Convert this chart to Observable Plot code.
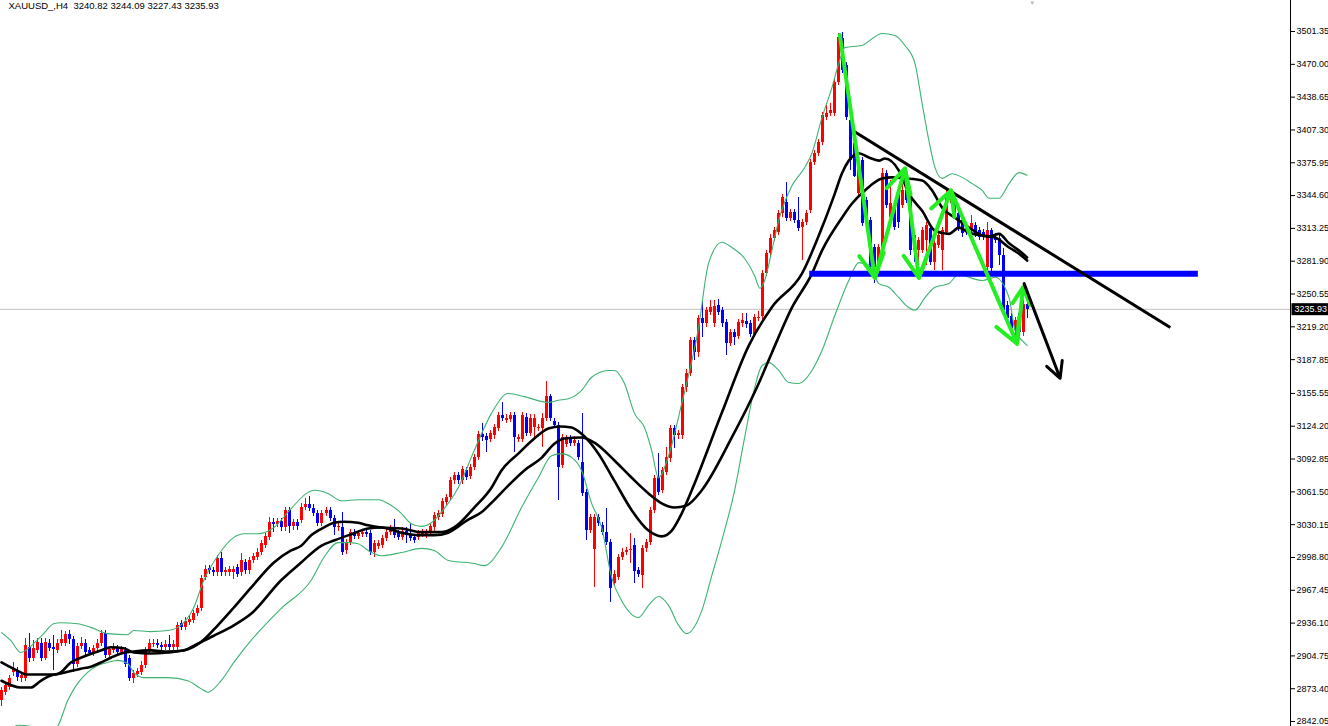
<!DOCTYPE html>
<html><head><meta charset="utf-8">
<script src="https://cdn.jsdelivr.net/npm/d3@7"></script>
<script src="https://cdn.jsdelivr.net/npm/@observablehq/plot@0.6"></script>
<style>html,body{margin:0;padding:0;background:#fff;overflow:hidden}</style>
</head><body><div id="chart"></div>
<script>
const symbolTitle = "XAUUSD_,H4\u00a0 3240.82 3244.09 3227.43 3235.93";
const lastPrice = 3235.93;
const priceTicks = [3501.35,3470.00,3438.65,3407.30,3375.95,3344.60,3313.25,3281.90,3250.55,3219.20,3187.85,3155.55,3124.20,3092.85,3061.50,3030.15,2998.80,2967.45,2936.10,2904.75,2873.40,2842.05];

// [open, high, low, close] for each H4 candle
const candles = [
[2862,2875,2856,2872],[2870,2879,2867,2876],[2875,2886,2872,2883],[2889,2898,2885,2893],[2891,2894,2880,2884],
[2883,2889,2879,2886],[2883,2921,2880,2915],[2913,2926,2898,2902],[2902,2919,2899,2912],[2910,2921,2907,2918],
[2917,2921,2899,2902],[2902,2921,2900,2918],[2917,2920,2909,2912],[2913,2924,2891,2911],[2910,2920,2907,2917],
[2917,2929,2914,2920],[2917,2928,2914,2925],[2925,2929,2916,2920],[2920,2923,2889,2897],[2897,2917,2894,2914],
[2914,2922,2911,2917],[2917,2920,2905,2908],[2910,2913,2905,2907],[2907,2915,2904,2912],[2912,2920,2909,2917],
[2917,2929,2914,2926],[2926,2929,2902,2905],[2905,2914,2902,2911],[2910,2917,2907,2912],[2912,2915,2905,2908],
[2908,2914,2905,2911],[2910,2913,2894,2897],[2902,2905,2880,2883],[2883,2891,2878,2888],[2887,2893,2884,2890],
[2889,2899,2886,2896],[2896,2913,2893,2910],[2910,2920,2907,2917],[2916,2920,2913,2917],[2917,2920,2912,2915],
[2915,2918,2910,2913],[2913,2919,2910,2916],[2916,2924,2910,2913],[2913,2919,2910,2916],[2913,2937,2910,2934],
[2936,2939,2929,2932],[2932,2941,2929,2938],[2937,2943,2934,2940],[2939,2948,2936,2945],[2945,2953,2942,2950],
[2950,2982,2947,2979],[2980,2991,2977,2987],[2988,2991,2983,2986],[2986,2989,2981,2984],[2984,3001,2981,2998],
[2998,3004,2981,2984],[2984,2989,2981,2986],[2984,2990,2981,2987],[2984,2990,2978,2987],[2989,2992,2980,2983],
[2984,3003,2981,2996],[2994,2997,2983,2986],[2986,2999,2983,2996],[2996,3003,2993,3000],[2999,3007,2996,3004],
[3004,3015,3001,3012],[3010,3022,3007,3019],[3018,3037,3015,3032],[3032,3036,3023,3030],[3030,3036,3027,3033],
[3033,3036,3024,3027],[3027,3047,3024,3044],[3044,3047,3022,3028],[3028,3035,3025,3032],[3032,3035,3025,3028],
[3034,3050,3031,3047],[3047,3055,3044,3049],[3049,3057,3043,3046],[3046,3049,3038,3041],[3041,3044,3028,3031],
[3031,3044,3028,3041],[3041,3047,3038,3044],[3044,3047,3033,3036],[3036,3039,3020,3027],[3027,3031,3024,3028],
[3027,3042,3001,3004],[3005,3016,3002,3013],[3013,3026,3010,3023],[3023,3026,3016,3019],[3019,3025,3016,3022],
[3021,3026,3018,3023],[3023,3026,3018,3021],[3022,3025,3001,3004],[3004,3015,2999,3012],[3009,3015,3006,3012],
[3010,3020,3007,3017],[3017,3026,3014,3023],[3023,3029,3020,3026],[3027,3035,3017,3020],[3022,3025,3015,3018],
[3018,3027,3015,3024],[3024,3027,3012,3020],[3021,3031,3014,3017],[3018,3021,3012,3015],[3018,3025,3015,3022],
[3021,3026,3018,3023],[3020,3026,3017,3023],[3023,3031,3020,3028],[3027,3042,3024,3039],[3037,3044,3034,3041],
[3040,3055,3037,3052],[3051,3059,3048,3056],[3056,3075,3053,3072],[3072,3080,3069,3077],[3077,3080,3069,3072],
[3072,3086,3069,3083],[3082,3085,3072,3075],[3076,3088,3073,3085],[3085,3097,3082,3094],[3094,3119,3091,3116],
[3116,3127,3110,3113],[3114,3117,3099,3111],[3112,3120,3109,3117],[3115,3126,3112,3123],[3122,3137,3119,3134],
[3134,3147,3129,3132],[3130,3135,3127,3132],[3131,3137,3128,3134],[3134,3137,3099,3113],[3112,3116,3109,3113],
[3112,3137,3109,3134],[3133,3136,3114,3117],[3117,3135,3114,3132],[3123,3135,3111,3132],[3122,3126,3119,3123],
[3122,3136,3104,3132],[3132,3167,3129,3153],[3153,3155,3129,3132],[3129,3132,3122,3125],[3125,3128,3053,3085],
[3087,3116,3084,3113],[3107,3115,3104,3112],[3112,3115,3105,3108],[3108,3114,3105,3111],[3108,3111,3091,3094],
[3090,3136,3057,3060],[3061,3064,3015,3025],[3025,3040,3022,3037],[3006,3040,2970,3037],[3037,3040,3028,3031],
[3029,3032,3020,3023],[3023,3046,3010,3013],[3013,3016,2956,2969],[2974,2986,2971,2983],[2980,3002,2977,2999],
[2999,3007,2996,3004],[3004,3008,3001,3005],[3005,3022,2993,3006],[3010,3017,2974,2985],[2986,2989,2980,2983],
[2982,3010,2969,3007],[3007,3016,3004,3013],[3013,3047,3010,3044],[3044,3077,3041,3074],[3075,3098,3058,3061],
[3063,3085,3060,3082],[3080,3104,3077,3094],[3093,3125,3090,3122],[3122,3125,3103,3115],[3115,3120,3112,3117],
[3115,3164,3112,3161],[3161,3178,3156,3175],[3175,3209,3172,3206],[3206,3209,3187,3195],[3195,3230,3190,3227],
[3227,3242,3209,3222],[3222,3238,3219,3235],[3233,3244,3230,3238],[3222,3244,3219,3239],[3240,3245,3230,3233],
[3235,3238,3219,3222],[3223,3226,3192,3203],[3203,3217,3200,3214],[3214,3217,3201,3209],[3210,3226,3207,3223],
[3222,3232,3219,3225],[3224,3232,3218,3221],[3222,3225,3209,3212],[3212,3231,3209,3228],[3227,3234,3224,3228],
[3229,3273,3226,3270],[3270,3292,3267,3289],[3289,3307,3286,3304],[3304,3314,3301,3311],[3309,3330,3306,3327],
[3327,3346,3324,3343],[3338,3357,3320,3323],[3323,3331,3320,3328],[3328,3331,3318,3321],[3321,3343,3310,3313],
[3314,3322,3283,3319],[3319,3330,3316,3327],[3330,3379,3327,3376],[3376,3388,3373,3385],[3385,3398,3382,3395],
[3395,3424,3392,3421],[3419,3431,3416,3423],[3423,3433,3420,3426],[3423,3456,3420,3453],[3453,3499,3450,3496],
[3495,3500,3461,3464],[3469,3472,3416,3419],[3416,3419,3369,3378],[3394,3401,3362,3363],[3347,3374,3344,3371],
[3378,3381,3315,3318],[3340,3343,3318,3321],[3321,3324,3273,3276],[3295,3298,3261,3276],[3273,3298,3268,3295],
[3295,3370,3292,3366],[3366,3369,3332,3335],[3324,3359,3321,3337],[3332,3335,3311,3314],[3349,3352,3313,3319],
[3335,3361,3332,3349],[3349,3352,3337,3340],[3342,3345,3287,3292],[3306,3309,3281,3292],[3292,3305,3273,3302],
[3292,3314,3289,3311],[3302,3319,3278,3316],[3313,3316,3278,3281],[3281,3302,3273,3299],[3297,3309,3294,3306],
[3292,3314,3273,3311],[3309,3352,3306,3342],[3340,3349,3337,3343],[3340,3343,3323,3326],[3327,3330,3310,3313],
[3321,3324,3305,3308],[3315,3318,3306,3309],[3311,3326,3308,3318],[3316,3319,3305,3308],[3311,3314,3302,3305],
[3309,3312,3302,3305],[3276,3319,3273,3311],[3311,3313,3272,3275],[3305,3308,3299,3302],[3304,3307,3278,3287],
[3287,3294,3232,3235],[3240,3243,3224,3227],[3229,3232,3211,3218],[3216,3228,3206,3225],[3232,3235,3211,3214],
[3214,3244,3210,3241],[3240.82,3244.09,3227.43,3235.93]
];

// indicator lines: [candle index, price]
const fastMA = [[0,2898.5],[4.8,2889],[6,2887],[13.5,2887],[14.8,2889],[17.3,2898.5],[19.8,2903],[24.8,2910],[27.3,2913],[30.5,2912],[33,2908],[37.3,2907],[41.5,2908],[46.5,2911],[49.8,2918],[54,2934],[58,2951],[62.3,2970],[68,2994],[72.3,3005.5],[74.8,3010],[77.3,3020],[80.5,3027.5],[83,3032],[85.5,3033],[89,3032],[91.5,3029.5],[94.8,3027.5],[99.8,3026.5],[104.8,3023],[109.8,3023],[113,3027.5],[118,3046.5],[122.3,3065.5],[124.8,3082],[129,3098],[133,3112.5],[136.5,3122],[139.5,3124],[142.3,3123],[144.8,3117],[149,3098],[153,3072],[157.3,3044],[161.5,3024.5],[164.8,3019],[167.3,3024.5],[169.8,3041],[172.3,3063],[179.8,3137],[186.5,3201],[192.3,3238],[199.8,3270],[204.8,3314],[208,3346.5],[209.8,3366],[211.5,3378],[214,3385],[216.5,3381],[219,3378],[220.5,3380],[224,3368.5],[226.5,3346.5],[229.8,3330],[233,3311],[236.5,3308],[239,3314],[241.5,3309],[244.8,3306.5],[246.5,3305.5],[249,3308],[251.5,3299],[254,3292],[256,3285.5]];
const slowMA = [[0,2881],[4.8,2874.5],[7.3,2874.5],[9.8,2881],[12.3,2886],[14.8,2888],[19.8,2892.5],[22.3,2894.5],[24.8,2898.5],[27.3,2903],[29.8,2907],[33,2909],[37.3,2910],[41.5,2909],[45.5,2910],[49,2916.5],[53,2924],[58,2934],[62.3,2945],[69.8,2977],[74.8,2994],[79.8,3010],[83,3015],[87.3,3021],[91.5,3026.5],[94.8,3027.5],[99.8,3022.5],[104.8,3020],[108,3020],[111.5,3022.5],[116.5,3035],[119.8,3042],[122.3,3051],[126.5,3067.5],[130.5,3082],[134.8,3094],[138,3107.5],[140.5,3112.5],[144.8,3113.5],[148,3108.5],[153,3091.5],[157.3,3075],[161.5,3060],[164.8,3050.5],[168,3046.5],[171,3048.5],[174.8,3063],[182.3,3113.5],[189,3165],[192.3,3194.5],[197.3,3237.5],[202.3,3270],[204.8,3292],[209.8,3323.5],[212.3,3337],[215.5,3349.5],[219.8,3361],[222.3,3362],[225.5,3361],[229.8,3359],[232.3,3349.5],[234.8,3333],[238,3323.5],[241.5,3314],[244.8,3306.5],[248,3304.5],[251.5,3295],[254,3289],[256,3282.5]];
const upperBand = [[0,2927],[2.3,2919.5],[4.8,2908],[6,2910],[8,2916.5],[10.5,2926],[13,2935.5],[14.8,2936.5],[19,2935.5],[22.3,2932],[26.5,2926],[31.5,2925],[33,2929],[37.3,2928],[41.5,2929],[44,2932],[48,2951],[50.5,2977],[54,3000.5],[58,3018],[60.5,3021.5],[64,3021.5],[68,3027.5],[72.3,3045.5],[76.5,3061],[78,3063],[81.5,3060],[84.8,3053],[89,3054],[94,3054],[97.3,3048.5],[99.8,3041],[102.3,3031],[104.8,3028.5],[107.3,3032],[110.5,3045.5],[114,3065.5],[118,3101],[122.3,3136.5],[126.5,3155.5],[130.5,3152.5],[136.5,3147],[139,3149],[141.5,3150.5],[144.8,3158.5],[147.3,3171],[151.5,3177.5],[153,3177.5],[155.5,3165],[158,3136.5],[160.5,3123],[162.3,3101],[164,3075],[166.5,3096],[169.8,3146],[174,3218.5],[176.5,3280],[179.8,3300],[182.3,3295],[185.5,3284.5],[188,3268],[189.3,3256],[190.5,3263.5],[192.3,3292],[194,3321],[197.3,3354],[200.5,3371.5],[202.3,3385],[204.8,3419],[207.3,3448],[209,3471],[210.5,3486],[214.8,3488],[217.3,3494.5],[219.8,3499.5],[223,3497.5],[225.5,3488],[228,3471],[229.8,3432.5],[231.5,3397],[233,3371.5],[234.8,3361],[237.3,3365.5],[239.8,3362],[242.3,3356],[244.8,3349.5],[246.5,3342],[249,3342],[251.5,3356],[254,3366.5],[256,3364]];
const lowerBand = [[0,2828.5],[2.3,2833.5],[4,2838.5],[7.3,2837.5],[9.8,2833.5],[12.3,2833.5],[14,2837.5],[16.5,2862],[19,2878.5],[21.5,2889],[24,2895.5],[26.5,2898.5],[29,2900.5],[31.5,2897.5],[33,2889],[35.5,2884],[41.5,2884],[46.5,2881],[49.8,2873.5],[51.5,2870],[54.8,2881],[58,2898.5],[62.3,2919.5],[69.8,2950],[77.3,2977],[80.5,2999],[84,3013],[86.5,3013],[89,3012],[91.5,3005.5],[94.8,3000.5],[99.8,3003.5],[104.8,3007.5],[108,3005.5],[111.5,2996],[118,2993],[120.5,2991],[124.8,3008.5],[129.8,3046.5],[134,3075],[137.3,3096],[139.8,3098],[142.3,3094.5],[144.8,3082],[147.3,3050.5],[149.8,3027.5],[152.3,2979.5],[154.8,2957.5],[159,2941.5],[161.5,2953],[164,2961.5],[166.5,2953],[169,2934],[171,2926],[174.8,2948],[177.3,2981.5],[179.8,3015],[183,3063],[185.5,3113.5],[188,3161],[189.8,3182],[191.5,3185],[194,3177.5],[196.5,3166],[199,3165],[202.3,3177.5],[204.8,3196.5],[208,3230],[211.5,3263.5],[214,3280.5],[216.5,3278],[219,3260.5],[221.5,3257],[224,3247],[226.5,3237.5],[228,3235],[230.5,3247],[233,3257],[236.5,3260.5],[239,3270],[241.5,3266.5],[244.8,3263.5],[248,3266.5],[251.5,3247],[253,3215.5],[254.8,3206],[256,3201.5]];

// hand-drawn annotations: [candle index, price]
const zigzag = [[209.25,3498],[218,3266],[225.5,3370.5],[229,3266],[237,3349.5],[253.5,3203],[255,3257]];
const downArrow = [[255.25,3260.5],[264.25,3170]];
const trendLine = [[212.75,3406],[291.75,3218.5]];
const supportLevel = 3270;
const supportSpan = [201.75, 298.75];
const xDomain = [-0.25, 321.75];
const yDomain = [2837.3, 3531];

const bars = candles.map((d, i) => ({i, o: d[0], h: d[1], l: d[2], c: d[3], col: d[3] >= d[0] ? "#ff0000" : "#0000ff"}));
const pts = arr => arr.map(([i, v]) => ({i, v}));
const segs = arr => arr.slice(1).map((p, k) => ({x1: arr[k][0], y1: arr[k][1], x2: p[0], y2: p[1]}));
const priceText = lastPrice.toFixed(2);

const plot = Plot.plot({
  width: 1328, height: 726,
  marginLeft: 0, marginRight: 38, marginTop: 0, marginBottom: 0,
  style: {fontFamily: "'Liberation Sans', Arial, sans-serif", fontSize: "9px", background: "#fff", color: "#000"},
  x: {domain: xDomain, axis: null},
  y: {domain: yDomain, axis: null},
  color: {type: "identity"},
  marks: [
    Plot.ruleY([lastPrice], {stroke: "#c0c0c0", strokeWidth: 1}),
    Plot.ruleX(bars, {x: "i", y1: "l", y2: "h", stroke: "col", strokeWidth: 1, shapeRendering: "crispEdges"}),
    Plot.ruleX(bars, {x: "i", y1: "o", y2: "c", stroke: "col", strokeWidth: 3, shapeRendering: "crispEdges"}),
    Plot.line(pts(upperBand), {x: "i", y: "v", stroke: "#3cb371", strokeWidth: 1.1, curve: "monotone-x"}),
    Plot.line(pts(lowerBand), {x: "i", y: "v", stroke: "#3cb371", strokeWidth: 1.1, curve: "monotone-x"}),
    Plot.line(pts(slowMA), {x: "i", y: "v", stroke: "#000", strokeWidth: 2.6, curve: "monotone-x"}),
    Plot.line(pts(fastMA), {x: "i", y: "v", stroke: "#000", strokeWidth: 2.6, curve: "monotone-x"}),
    Plot.ruleY([supportLevel], {x1: supportSpan[0], x2: supportSpan[1], stroke: "#0000ff", strokeWidth: 6}),
    Plot.link(segs(trendLine), {x1: "x1", y1: "y1", x2: "x2", y2: "y2", stroke: "#000", strokeWidth: 3}),
    Plot.arrow(segs(zigzag), {x1: "x1", y1: "y1", x2: "x2", y2: "y2", stroke: "#22ee22", strokeWidth: 4, headLength: 10, headAngle: 55}),
    Plot.arrow(segs(downArrow), {x1: "x1", y1: "y1", x2: "x2", y2: "y2", stroke: "#000", strokeWidth: 3, headLength: 9, headAngle: 55}),
    Plot.ruleX([xDomain[1]], {stroke: "#000", strokeWidth: 1}),
    Plot.axisY({anchor: "right", ticks: priceTicks, tickSize: 4, tickPadding: 2, tickFormat: d => d.toFixed(2), fontSize: 9}),
    Plot.text([lastPrice], {x: xDomain[1], y: d => d, text: () => priceText, textAnchor: "start", dx: 4, fill: "#ffffff", fontSize: 9}),
    Plot.text([symbolTitle], {frameAnchor: "top-left", dx: 8, dy: 2, text: d => d, fontSize: 9.5, fill: "#000"}),
    Plot.text(["▼"], {x: 257.25, frameAnchor: "top", dy: 0, text: d => d, fontSize: 6, fill: "#b8b8b8"})
  ]
});
document.getElementById("chart").appendChild(plot);

// black badge behind the current price label (drawn in the text's own coordinate system)
d3.select(plot).selectAll("text").filter(function () { return this.textContent === priceText; }).each(function () {
  const bb = this.getBBox();
  d3.select(this.parentNode).insert("rect", ":first-child")
    .attr("transform", this.getAttribute("transform"))
    .attr("x", bb.x - 3).attr("y", bb.y - 1)
    .attr("width", 48).attr("height", bb.height + 2)
    .attr("fill", "#000");
});
</script>
</body></html>
